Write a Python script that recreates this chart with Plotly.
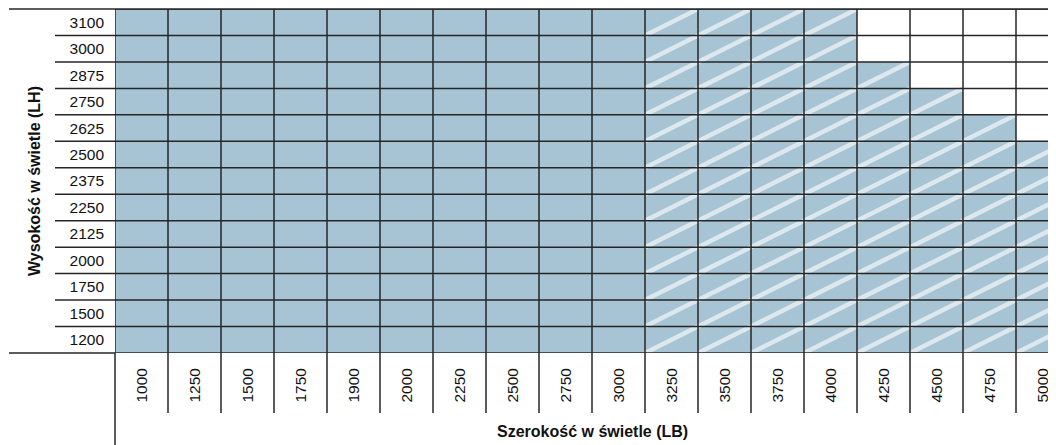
import plotly.graph_objects as go

# szerokości (LB) i wysokości (LH) w mm
widths = [1000, 1250, 1500, 1750, 1900, 2000, 2250, 2500, 2750, 3000,
          3250, 3500, 3750, 4000, 4250, 4500, 4750, 5000]
heights = [1200, 1500, 1750, 2000, 2125, 2250, 2375, 2500, 2625, 2750,
           2875, 3000, 3100]
# maksymalna wysokość dla danej szerokości
max_height = [3100, 3100, 3100, 3100, 3100, 3100, 3100, 3100, 3100, 3100,
              3100, 3100, 3100, 3100, 2875, 2750, 2625, 2500]
# wykonanie specjalne (kreskowane) od tej szerokości
special_from = 3250

FILL = "#a6c4d4"
HATCH = "#dce8ee"
LINE = "#262626"
FONT = "Liberation Sans, Arial, sans-serif"

# strona ma 8 px marginesu body, więc wykres jest o tyle mniejszy
W, H = 1048, 437
ML, MT, MB = 107, 1, 92
col_px = 53
plot_w = W - ML
plot_h = H - MT - MB

xr = [-0.5, -0.5 + plot_w / col_px]
yr = [-0.5, len(heights) - 0.5]


def xp(v):
    return (v - xr[0]) / (xr[1] - xr[0])


def yp(v):
    return (v - yr[0]) / (yr[1] - yr[0])


xi = list(range(len(widths)))
yi = list(range(len(heights)))

z = []
for h in heights:
    row = []
    for w, mh in zip(widths, max_height):
        row.append(1 if h <= mh else 0)
    z.append(row)

fig = go.Figure()
fig.add_trace(go.Heatmap(
    x=xi, y=yi, z=z, zmin=0, zmax=1,
    colorscale=[[0, "white"], [1, FILL]],
    showscale=False, hoverinfo="skip"))

# kreskowanie: jedna przekątna na komórkę
hx, hy = [], []
for i, (w, mh) in enumerate(zip(widths, max_height)):
    if w < special_from:
        continue
    for j, h in enumerate(heights):
        if h <= mh:
            hx += [i - 0.5, i + 0.5, None]
            hy += [j - 0.5, j + 0.5, None]
fig.add_trace(go.Scatter(x=hx, y=hy, mode="lines",
                         line=dict(color=HATCH, width=4.5),
                         hoverinfo="skip", showlegend=False))

# siatka
gx, gy = [], []
for i in range(len(widths) + 1):
    gx += [i - 0.5, i - 0.5, None]
    gy += [yr[0], yr[1], None]
for j in range(len(heights) + 1):
    gx += [xr[0], xr[1] + 1, None]
    gy += [j - 0.5, j - 0.5, None]
fig.add_trace(go.Scatter(x=gx, y=gy, mode="lines",
                         line=dict(color=LINE, width=1.5),
                         hoverinfo="skip", showlegend=False))

shapes = []
line = dict(color=LINE, width=1.5)
shapes.append(dict(type="line", xref="paper", yref="paper",
                   x0=(1 - ML) / plot_w, x1=1, y0=1, y1=1, line=line))
shapes.append(dict(type="line", xref="paper", yref="paper",
                   x0=(1 - ML) / plot_w, x1=0, y0=0, y1=0, line=line))
for j in range(1, len(heights)):
    y = yp(j - 0.5)
    shapes.append(dict(type="line", xref="paper", yref="paper",
                       x0=-60 / plot_w, x1=0, y0=y, y1=y, line=line))
for i in range(len(widths)):
    x = xp(i - 0.5)
    y1 = -MB / plot_h if i == 0 else -60 / plot_h
    shapes.append(dict(type="line", xref="paper", yref="paper",
                       x0=x, x1=x, y0=0, y1=y1, line=line))

fig.update_layout(
    width=W, height=H,
    margin=dict(l=ML, r=0, t=MT, b=MB, autoexpand=False),
    paper_bgcolor="white", plot_bgcolor="white",
    font=dict(family=FONT, size=15.5, color="#111"),
    shapes=shapes,
    xaxis=dict(range=xr, tickmode="array", tickvals=xi,
               ticktext=[str(w) for w in widths], tickangle=-90,
               showgrid=False, zeroline=False, showline=False,
               automargin=False, ticklabelstandoff=11, fixedrange=True),
    yaxis=dict(range=yr, tickmode="array", tickvals=yi,
               ticktext=[str(h) for h in heights],
               showgrid=False, zeroline=False, showline=False,
               automargin=False, ticklabelstandoff=10, fixedrange=True),
    annotations=[
        dict(text="<b>Szerokość w świetle (LB)</b>", xref="paper",
             yref="paper", x=xp((len(widths) - 1) / 2), y=0, yshift=-78,
             xanchor="center", yanchor="middle",
             showarrow=False, font=dict(size=16)),
        dict(text="<b>Wysokość w świetle (LH)</b>", xref="paper",
             yref="paper", x=0, xshift=-81, y=0.5, textangle=-90,
             xanchor="center", yanchor="middle",
             showarrow=False, font=dict(size=16)),
    ],
)

fig.write_html("out.html")
